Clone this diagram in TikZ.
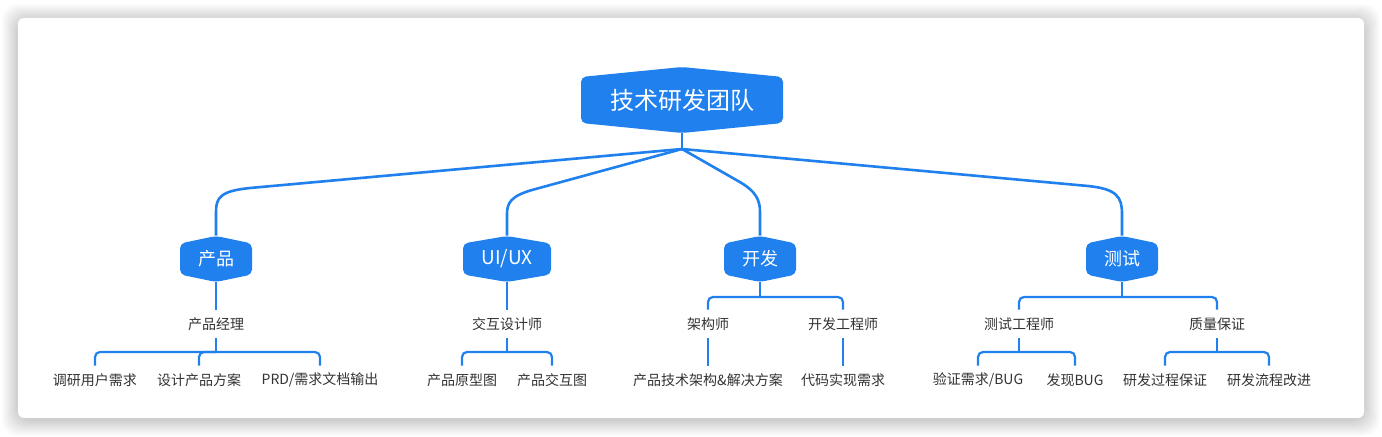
\documentclass[tikz,border=0pt]{standalone}
\usepackage{fontspec}
\newfontfamily\cjk{Noto Sans CJK SC}
\usetikzlibrary{calc}
\definecolor{mblue}{HTML}{2080EE}
\definecolor{tgray}{HTML}{333333}
\newcommand\hexat[5]{\fill[hexfill] ({#1-#3},{#2-#5}) -- (#1,{#2-#4}) -- ({#1+#3},{#2-#5}) -- ({#1+#3},{#2+#5}) -- (#1,{#2+#4}) -- ({#1-#3},{#2+#5}) -- cycle;}
\begin{document}
\begin{tikzpicture}[x=0.5pt,y=-0.5pt,
 line/.style={draw=mblue, line width=1.1pt, rounded corners=2.5pt},
 topline/.style={draw=mblue, line width=1.3pt},
 rootnode/.style={font=\cjk\fontsize{12pt}{14pt}\selectfont, text=white, minimum width=101pt, minimum height=33pt, inner sep=0pt},
 catnode/.style={font=\cjk\fontsize{9pt}{11pt}\selectfont, text=white, minimum width=36pt, minimum height=23pt, inner sep=0pt},
 leaf/.style={font=\cjk\fontsize{7pt}{8.5pt}\selectfont, text=tgray, minimum height=14pt, inner sep=0pt},
 hexfill/.style={fill=mblue, rounded corners=2.5pt}]
\useasboundingbox (0,0) rectangle (1382,437);
\fill[white] (0,0) rectangle (1382,437);
% shadow
\foreach \i in {1,...,16}{
  \fill[black, opacity=0.012, rounded corners=8pt] ({18-\i},{18-\i+2}) rectangle ({1364+\i},{418+\i+2});
}
\fill[white, rounded corners=3pt] (18,18) rectangle (1364,418);

% hexagon fills
\hexat{682}{100}{101}{33}{23}
\hexat{216}{259}{36}{23}{15.5}
\hexat{507}{259}{44}{23}{15.5}
\hexat{760}{259}{36}{23}{15.5}
\hexat{1122}{259}{36}{23}{15.5}

% nodes
\node[rootnode] (root) at (682,100) {技术研发团队};
\node[catnode] (p) at (216,259) {产品};
\node[catnode, minimum width=44pt, font=\cjk\fontsize{9.5pt}{11pt}\selectfont] (u) at (507,259) {UI/UX};
\node[catnode] (k) at (760,259) {开发};
\node[catnode] (t) at (1122,259) {测试};

\node[leaf] (pm) at (216,324) {产品经理};
\node[leaf] (p1) at (95,380) {调研用户需求};
\node[leaf] (p2) at (199,380) {设计产品方案};
\node[leaf] (p3) at (320,380) {PRD/需求文档输出};

\node[leaf] (ud) at (507,324) {交互设计师};
\node[leaf] (u1) at (462,380) {产品原型图};
\node[leaf] (u2) at (552,380) {产品交互图};

\node[leaf] (ka) at (708,324) {架构师};
\node[leaf] (kb) at (843,324) {开发工程师};
\node[leaf] (ka1) at (708,380) {产品技术架构\&解决方案};
\node[leaf] (kb1) at (843,380) {代码实现需求};

\node[leaf] (ta) at (1019,324) {测试工程师};
\node[leaf] (tb) at (1217,324) {质量保证};
\node[leaf] (ta1) at (978,380) {验证需求/BUG};
\node[leaf] (ta2) at (1075,380) {发现BUG};
\node[leaf] (tb1) at (1165,380) {研发过程保证};
\node[leaf] (tb2) at (1269,380) {研发流程改进};

% top connectors
\coordinate (fork) at (682,149);
\draw[topline] (root.south) -- (fork);
\draw[topline] (fork) -- (250,188) .. controls (220,191) and (216,198) .. (216,212) -- (p.north);
\draw[topline] (fork) -- (532,190) .. controls (511,196) and (507,203) .. (507,214) -- (u.north);
\draw[topline] (fork) -- (738,181) .. controls (756,191) and (760,200) .. (760,212) -- (k.north);
\draw[topline] (fork) -- (1088,186) .. controls (1117,189) and (1122,197) .. (1122,214) -- (t.north);

% product
\coordinate (pb) at (216,352);
\draw[line] (p.south) -- (pm.north);
\draw[line] (pm.south) -- (pb);
\draw[line] (p1.north) |- (pb) -| (p3.north);
\draw[line] (p2.north) |- (pb);

% ui/ux
\coordinate (ub) at (507,352);
\draw[line] (u.south) -- (ud.north);
\draw[line] (ud.south) -- (ub);
\draw[line] (u1.north) |- (ub) -| (u2.north);

% dev
\coordinate (kbr) at (760,297);
\draw[line] (k.south) -- (kbr);
\draw[line] (ka.north) |- (kbr) -| (kb.north);
\draw[line] (ka.south) -- (ka1.north);
\draw[line] (kb.south) -- (kb1.north);

% test
\coordinate (tbr) at (1122,297);
\draw[line] (t.south) -- (tbr);
\draw[line] (ta.north) |- (tbr) -| (tb.north);
\coordinate (tab) at (1019,352);
\draw[line] (ta.south) -- (tab);
\draw[line] (ta1.north) |- (tab) -| (ta2.north);
\coordinate (tbb) at (1217,352);
\draw[line] (tb.south) -- (tbb);
\draw[line] (tb1.north) |- (tbb) -| (tb2.north);
\end{tikzpicture}
\end{document}
